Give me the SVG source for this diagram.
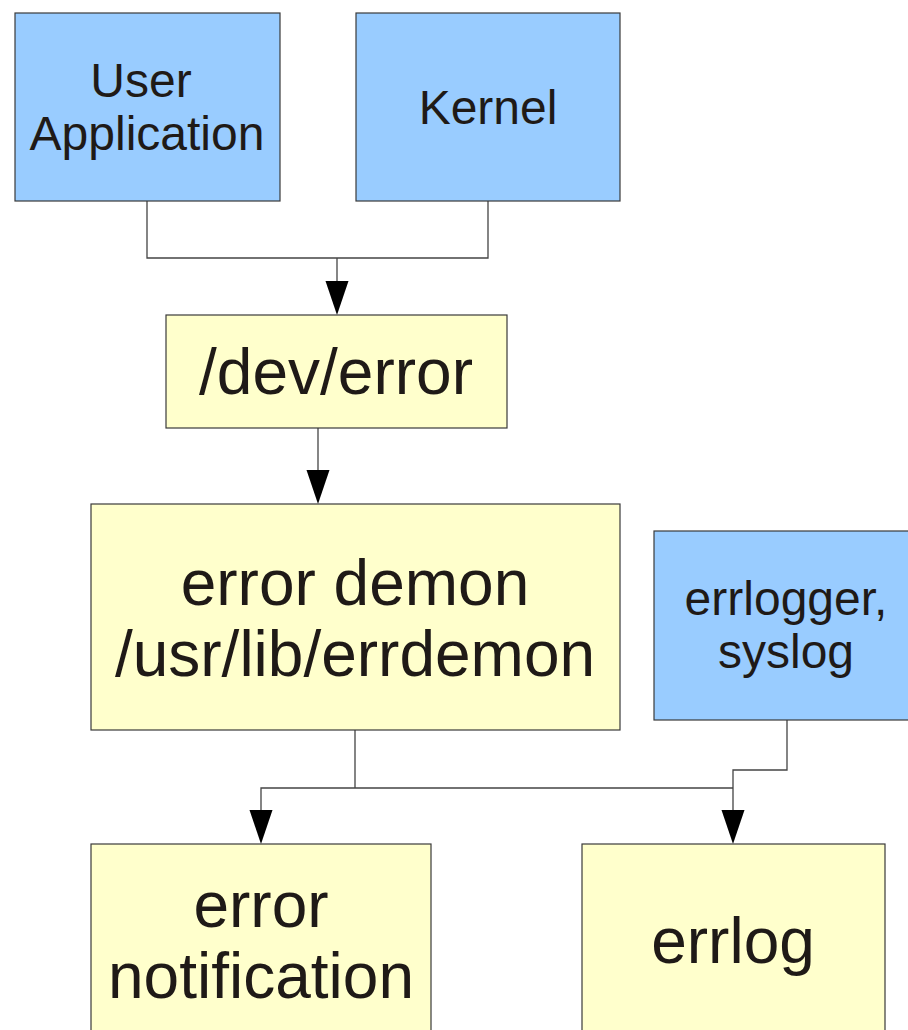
<svg xmlns="http://www.w3.org/2000/svg" width="908" height="1030" viewBox="0 0 908 1030">
<style>
.blue{fill:#99ccff;stroke:#3a3a3a;stroke-width:1.2}
.yellow{fill:#ffffcc;stroke:#3a3a3a;stroke-width:1.2}
.t{font-family:"Liberation Sans",Arial,sans-serif;fill:#1f1a17;text-anchor:middle}
.s{font-size:48px}
.l{font-size:64px}
.c{fill:none;stroke:#444;stroke-width:1.3}
.a{fill:#000}
</style>
<rect width="908" height="1030" fill="#fff"/>
<g id="connectors">
<path class="c" d="M147,201 V258 H488 V201"/>
<path class="c" d="M337,258 V281"/>
<path class="a" d="M325.5,281 L348.5,281 L337,315 Z"/>
<path class="c" d="M318,428 V470"/>
<path class="a" d="M306.5,470 L329.5,470 L318,504 Z"/>
<path class="c" d="M355,730 V788 M261,810 V788 H733"/>
<path class="a" d="M249.5,810 L272.5,810 L261,844 Z"/>
<path class="c" d="M787,720 V770 H733 V810"/>
<path class="a" d="M721.5,810 L744.5,810 L733,844 Z"/>
</g>
<g id="user-application">
<rect class="blue" x="15" y="13" width="265" height="188"/>
<text class="t s" x="141" y="97">User</text>
<text class="t s" x="147" y="150">Application</text>
</g>
<g id="kernel">
<rect class="blue" x="356" y="13" width="264" height="188"/>
<text class="t s" x="488" y="124">Kernel</text>
</g>
<g id="dev-error">
<rect class="yellow" x="166" y="315" width="341" height="113"/>
<text class="t l" x="336" y="394">/dev/error</text>
</g>
<g id="error-demon">
<rect class="yellow" x="91" y="504" width="529" height="226"/>
<text class="t l" x="355" y="605">error demon</text>
<text class="t l" x="355" y="676">/usr/lib/errdemon</text>
</g>
<g id="errlogger-syslog">
<rect class="blue" x="654" y="531" width="265" height="189"/>
<text class="t s" x="786" y="615">errlogger,</text>
<text class="t s" x="786" y="668">syslog</text>
</g>
<g id="error-notification">
<rect class="yellow" x="91" y="844" width="340" height="200"/>
<text class="t l" x="261" y="927">error</text>
<text class="t l" x="261" y="998">notification</text>
</g>
<g id="errlog">
<rect class="yellow" x="582" y="844" width="303" height="200"/>
<text class="t l" x="733" y="963">errlog</text>
</g>
</svg>
